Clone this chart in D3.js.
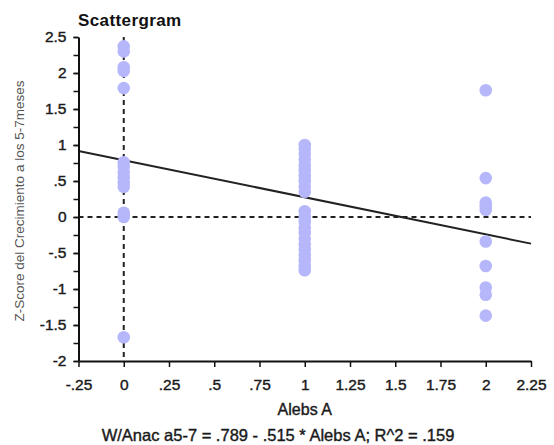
<!DOCTYPE html>
<html>
<head>
<meta charset="utf-8">
<script src="https://cdn.jsdelivr.net/npm/d3@7"></script>
<style>
  html, body { margin: 0; padding: 0; background: #fff; }
  svg { display: block; font-family: "Liberation Sans", Arial, sans-serif; }
</style>
</head>
<body>
<svg id="chart" width="554" height="445"></svg>
<script>
// ---- data ----
const titleText = "Scattergram";
const xLabel = "Alebs A";
const yLabel = "Z-Score del Crecimiento a los 5-7meses";
const footerText = "W/Anac a5-7 = .789 - .515 * Alebs A; R^2 = .159";

const xGroups = [0, 1, 2];
const valuesAt0 = [2.37, 2.3, 2.08, 2.03, 1.79, 0.76, 0.7, 0.62, 0.55, 0.48, 0.42, 0.06, 0.0, -1.67];
const valuesAt1 = [1.0, 0.95, 0.88, 0.8, 0.72, 0.65, 0.57, 0.5, 0.42, 0.35,
                   0.08, 0.0, -0.07, -0.15, -0.22, -0.3, -0.38, -0.45, -0.53, -0.6, -0.68, -0.74];
const valuesAt2 = [1.76, 0.54, 0.2, 0.15, 0.1, -0.34, -0.68, -0.98, -1.08, -1.37];

const regIntercept = 0.789;
const regSlope = -0.515;

const xTickValues = [-0.25, 0, 0.25, 0.5, 0.75, 1, 1.25, 1.5, 1.75, 2, 2.25];
const xTickLabels = ["-.25", "0", ".25", ".5", ".75", "1", "1.25", "1.5", "1.75", "2", "2.25"];
const yMinorTickValues = [-2, -1.75, -1.5, -1.25, -1, -0.75, -0.5, -0.25, 0, 0.25, 0.5, 0.75, 1, 1.25, 1.5, 1.75, 2, 2.25, 2.5];
const yTickValues = [-2, -1.5, -1, -0.5, 0, 0.5, 1, 1.5, 2, 2.5];
const yTickLabels = ["-2", "-1.5", "-1", "-.5", "0", ".5", "1", "1.5", "2", "2.5"];

// ---- layout ----
const mLeft = 78.5, mRight = 531, mTop = 37, mBottom = 361;
const svg = d3.select("#chart");

const x = d3.scaleLinear().domain([-0.25, 2.25]).range([mLeft, mRight]);
const y = d3.scaleLinear().domain([-2, 2.5]).range([mBottom, mTop]);

const points = [];
[valuesAt0, valuesAt1, valuesAt2].forEach((vals, i) => {
  vals.forEach(v => points.push({ x: xGroups[i], y: v }));
});

// dashed reference lines
svg.append("line")
  .attr("x1", x(-0.25)).attr("x2", x(2.25))
  .attr("y1", y(0)).attr("y2", y(0))
  .attr("stroke", "#222").attr("stroke-width", 2)
  .attr("stroke-dasharray", "5,4");
svg.append("line")
  .attr("x1", x(0)).attr("x2", x(0))
  .attr("y1", y(2.5)).attr("y2", y(-2))
  .attr("stroke", "#222").attr("stroke-width", 2)
  .attr("stroke-dasharray", "5,4");

// regression line
const regX = [-0.25, 2.25];
svg.append("line")
  .attr("x1", x(regX[0])).attr("y1", y(regIntercept + regSlope * regX[0]))
  .attr("x2", x(regX[1])).attr("y2", y(regIntercept + regSlope * regX[1]))
  .attr("stroke", "#222").attr("stroke-width", 2);

// points
svg.append("g").selectAll("circle").data(points).join("circle")
  .attr("cx", d => x(d.x)).attr("cy", d => y(d.y))
  .attr("r", 6.3)
  .attr("fill", "#b6b6fb");

// axes
const yMinor = d3.axisLeft(y).tickValues(yMinorTickValues).tickFormat("").tickSize(5).tickSizeOuter(0);
const yAxis = d3.axisLeft(y).tickValues(yTickValues)
  .tickFormat((d, i) => yTickLabels[i]).tickSize(5).tickPadding(7).tickSizeOuter(0);
const xAxis = d3.axisBottom(x).tickValues(xTickValues)
  .tickFormat((d, i) => xTickLabels[i]).tickSize(6).tickPadding(12).tickSizeOuter(0);

const gyMinor = svg.append("g").attr("transform", `translate(${mLeft},0)`).call(yMinor);
gyMinor.select(".domain").remove();
const gy = svg.append("g").attr("transform", `translate(${mLeft},0)`).call(yAxis);
const gx = svg.append("g").attr("transform", `translate(0,${mBottom})`).call(xAxis);

[gyMinor, gy, gx].forEach(g => {
  g.selectAll(".domain").attr("stroke", "#111").attr("stroke-width", 2);
  g.selectAll(".tick line").attr("stroke", "#111").attr("stroke-width", 1.5);
  g.selectAll("text").attr("fill", "#1a1a1a").style("font-size", "15.5px")
    .attr("stroke", "#1a1a1a").attr("stroke-width", 0.4)
    .style("font-family", '"Liberation Sans", Arial, sans-serif');
});

// texts
svg.append("text")
  .attr("x", 78).attr("y", 26)
  .style("font-size", "17px").style("font-weight", "bold")
  .style("letter-spacing", "0.4px")
  .attr("fill", "#111")
  .text(titleText);

svg.append("text")
  .attr("transform", `translate(24,${(mTop + mBottom) / 2 + 2}) rotate(-90)`)
  .attr("text-anchor", "middle")
  .style("font-size", "13.5px")
  .attr("fill", "#555")
  .text(yLabel);

svg.append("text")
  .attr("x", (mLeft + mRight) / 2).attr("y", 415)
  .attr("text-anchor", "middle")
  .style("font-size", "16px")
  .attr("fill", "#1a1a1a").attr("stroke", "#1a1a1a").attr("stroke-width", 0.4)
  .text(xLabel);

svg.append("text")
  .attr("x", 278).attr("y", 441)
  .attr("text-anchor", "middle")
  .style("font-size", "16.5px")
  .attr("fill", "#1a1a1a").attr("stroke", "#1a1a1a").attr("stroke-width", 0.4)
  .text(footerText);
</script>
</body>
</html>
